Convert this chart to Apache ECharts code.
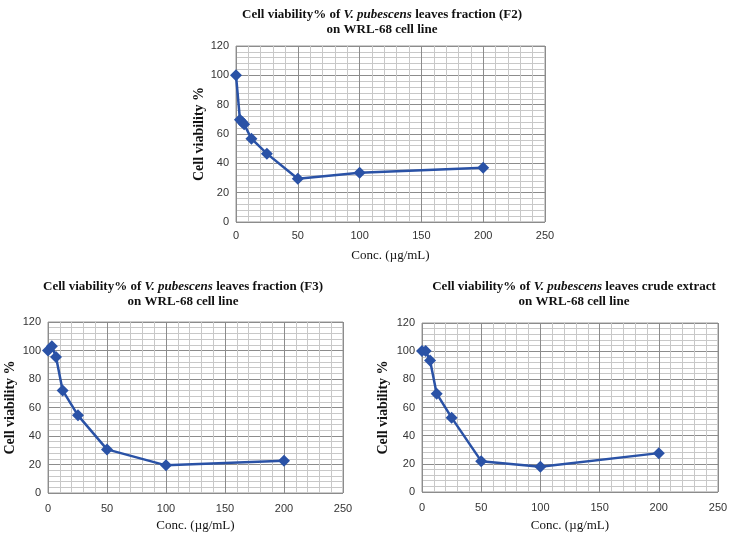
<!DOCTYPE html>
<html>
<head>
<meta charset="utf-8">
<script src="https://cdn.jsdelivr.net/npm/echarts@6/dist/echarts.min.js"></script>
<style>
  html, body { margin: 0; padding: 0; background: #fff; }
  #main { width: 736px; height: 540px; }
</style>
</head>
<body>
<div id="main"></div>
<script>
// concentrations (µg/mL) and viability (%)
var concF2 = [0, 3.2, 4.9, 6.6, 12.5, 25, 50, 100, 200];
var viabF2 = [100, 69.8, 68.2, 66.6, 56.8, 46.6, 29.5, 33.6, 37];

var concF3 = [0, 3.3, 6.8, 12.4, 25.4, 50, 100, 200];
var viabF3 = [100, 103, 95.4, 72, 54.5, 30.6, 19.4, 22.7];

var concCrude = [0, 3.1, 6.8, 12.4, 25, 50, 100, 200];
var viabCrude = [100.2, 100.2, 93.3, 69.8, 52.8, 21.9, 17.9, 27.6];

var titleLine1 = [
  ["leaves fraction (F2)"],
  ["leaves fraction (F3)"],
  ["leaves crude extract"]
];
var xName = "Conc. (µg/mL)";
var yName = "Cell viability %";

var myChart = echarts.init(document.getElementById("main"));

var serif = "'Liberation Serif', 'Times New Roman', serif";
var sans = "'Liberation Sans', Arial, sans-serif";
var blue = "#2a52a6";

function pairs(xs, ys) {
  return xs.map(function (x, i) { return [x, ys[i]]; });
}

// one title per panel, italic species name
function makeTitle(i, cx, top) {
  return {
    text: "{b|Cell viability% of }{i|V. pubescens}{b| " + titleLine1[i] + "}\n{b|on WRL-68 cell line}",
    left: cx,
    top: top,
    textAlign: "center",
    textStyle: {
      lineHeight: 15,
      rich: {
        b: { fontFamily: serif, fontWeight: "bold", fontSize: 13, color: "#111", lineHeight: 15 },
        i: { fontFamily: serif, fontWeight: "bold", fontStyle: "italic", fontSize: 13, color: "#111", lineHeight: 15 }
      }
    }
  };
}

function makeX(idx, gap, lblMargin) {
  return {
    type: "value",
    gridIndex: idx,
    min: 0, max: 250, interval: 50,
    name: xName,
    nameLocation: "middle",
    nameGap: gap,
    nameTextStyle: { fontFamily: serif, fontSize: 13, color: "#111" },
    axisLine: { show: false },
    axisTick: { show: false },
    axisLabel: { fontFamily: sans, fontSize: 11, color: "#333", margin: lblMargin },
    splitLine: { show: true, lineStyle: { color: "#8c8c8c", width: 1 } },
    minorTick: { show: false, splitNumber: 5 },
    minorSplitLine: { show: true, lineStyle: { color: "#c8c8c8", width: 1 } }
  };
}

function makeY(idx, gap) {
  return {
    type: "value",
    gridIndex: idx,
    min: 0, max: 120, interval: 20,
    name: yName,
    nameLocation: "middle",
    nameGap: gap,
    nameRotate: 90,
    nameTextStyle: { fontFamily: serif, fontSize: 14, fontWeight: "bold", color: "#111" },
    axisLine: { show: false },
    axisTick: { show: false },
    axisLabel: { fontFamily: sans, fontSize: 11, color: "#333", margin: 7 },
    splitLine: { show: true, lineStyle: { color: "#8c8c8c", width: 1 } },
    minorTick: { show: false, splitNumber: 5 },
    minorSplitLine: { show: true, lineStyle: { color: "#c8c8c8", width: 1 } }
  };
}

function makeSeries(idx, xs, ys) {
  return {
    type: "line",
    xAxisIndex: idx,
    yAxisIndex: idx,
    data: pairs(xs, ys),
    symbol: "diamond",
    symbolSize: 12,
    lineStyle: { color: blue, width: 2.5 },
    itemStyle: { color: blue },
    animation: false
  };
}

myChart.setOption({
  backgroundColor: "#fff",
  animation: false,
  title: [
    makeTitle(0, 377, 2),
    makeTitle(1, 178, 274),
    makeTitle(2, 569, 274)
  ],
  grid: [
    { left: 236, right: 191, top: 46, height: 176, show: true, borderColor: "#9a9a9a", borderWidth: 1 },
    { left: 48, right: 393, top: 322, height: 171, show: true, borderColor: "#9a9a9a", borderWidth: 1 },
    { left: 422, right: 18, top: 323, height: 169, show: true, borderColor: "#9a9a9a", borderWidth: 1 }
  ],
  xAxis: [makeX(0, 27, 8), makeX(1, 26, 10), makeX(2, 27, 10)],
  yAxis: [makeY(0, 29), makeY(1, 31), makeY(2, 32)],
  series: [
    makeSeries(0, concF2, viabF2),
    makeSeries(1, concF3, viabF3),
    makeSeries(2, concCrude, viabCrude)
  ]
});
</script>
</body>
</html>
